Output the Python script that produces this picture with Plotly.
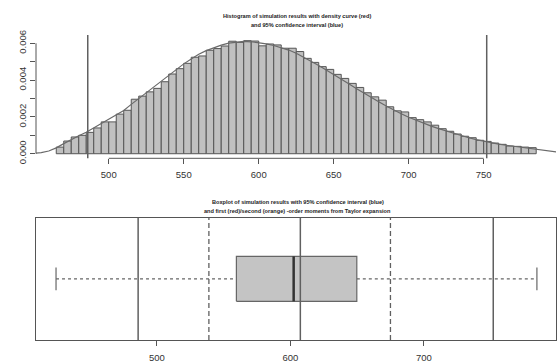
import plotly.graph_objects as go

# ---------------- data ----------------
bin_starts = [465, 470, 475, 480, 485, 490, 495, 500, 505, 510, 515, 520, 525, 530, 535, 540,
              545, 550, 555, 560, 565, 570, 575, 580, 585, 590, 595, 600, 605, 610, 615, 620,
              625, 630, 635, 640, 645, 650, 655, 660, 665, 670, 675, 680, 685, 690, 695, 700,
              705, 710, 715, 720, 725, 730, 735, 740, 745, 750, 755, 760, 765, 770, 775, 780]
bin_width = 5
hist_density = [0.00036, 0.00069, 0.00091, 0.00100, 0.00116, 0.00140, 0.00173, 0.00173,
                0.00215, 0.00236, 0.00296, 0.00313, 0.00336, 0.00355, 0.00391, 0.00433,
                0.00462, 0.00491, 0.00524, 0.00531, 0.00562, 0.00571, 0.00585, 0.00611,
                0.00605, 0.00614, 0.00612, 0.00586, 0.00596, 0.00591, 0.00573, 0.00573,
                0.00555, 0.00518, 0.00496, 0.00473, 0.00458, 0.00431, 0.00409, 0.00382,
                0.00360, 0.00331, 0.00309, 0.00291, 0.00255, 0.00233, 0.00227, 0.00196,
                0.00185, 0.00173, 0.00155, 0.00136, 0.00122, 0.00107, 0.00095, 0.00087,
                0.00073, 0.00067, 0.00058, 0.00051, 0.00042, 0.00040, 0.00036, 0.00033]

dens_x = [450, 455, 460, 465, 470, 475, 480, 485, 490, 495, 500, 505, 510, 515, 520, 525,
          530, 535, 540, 545, 550, 555, 560, 565, 570, 575, 580, 585, 590, 595, 600, 605,
          610, 615, 620, 625, 630, 635, 640, 645, 650, 655, 660, 665, 670, 675, 680, 685,
          690, 695, 700, 705, 710, 715, 720, 725, 730, 735, 740, 745, 750, 755, 760, 765,
          770, 775, 780, 785, 790, 795, 800]
dens_y = [0.00002, 0.00006, 0.00015, 0.00032, 0.00055, 0.00078, 0.00098, 0.00117, 0.00140,
          0.00163, 0.00185, 0.00208, 0.00235, 0.00268, 0.00300, 0.00330, 0.00360, 0.00392,
          0.00425, 0.00457, 0.00488, 0.00515, 0.00540, 0.00560, 0.00576, 0.00590, 0.00601,
          0.00607, 0.00610, 0.00608, 0.00603, 0.00597, 0.00588, 0.00577, 0.00563, 0.00546,
          0.00525, 0.00502, 0.00479, 0.00455, 0.00431, 0.00406, 0.00380, 0.00354, 0.00329,
          0.00305, 0.00282, 0.00259, 0.00237, 0.00217, 0.00198, 0.00181, 0.00165, 0.00150,
          0.00136, 0.00123, 0.00110, 0.00098, 0.00087, 0.00077, 0.00068, 0.00060, 0.00052,
          0.00046, 0.00040, 0.00035, 0.00030, 0.00025, 0.00019, 0.00013, 0.00008]

ci_bounds = [486, 752]             # 95% confidence interval
taylor_first = [607.5]             # first-order moment (solid)
taylor_second = [539, 675]         # second-order moments (dashed)

box_stats = {"lower": 424.5, "q1": 559.6, "median": 602.5, "q3": 649.8, "upper": 784.7}

top_xticks = [500, 550, 600, 650, 700, 750]
top_yticks = [0, 0.001, 0.002, 0.003, 0.004, 0.005, 0.006]
top_yticktext = ["0.000", "", "0.002", "", "0.004", "", "0.006"]
bot_xticks = [500, 600, 700]

title_top = ["Histogram of simulation results with density curve (red)",
             "and 95% confidence interval (blue)"]
title_bot = ["Boxplot of simulation results with 95% confidence interval (blue)",
             "and first (red)/second (orange) -order moments from Taylor expansion"]

# ---------------- styling ----------------
W, H = 560, 362


def fx(px):
    return px / W


def fy(py):
    return 1 - py / H


AX = "#555555"
VL = "#606060"
TXT = "#333333"
FONT = "Liberation Sans, Arial, sans-serif"
x_dom = [fx(36), fx(556)]
top_dom = [fy(158.3), fy(35)]
bot_dom = [fy(340), fy(217.7)]

fig = go.Figure()

centers = [b + bin_width / 2 for b in bin_starts]
fig.add_trace(go.Bar(x=centers, y=hist_density, width=bin_width,
                     marker=dict(color="#c0c0c0", line=dict(color="#555555", width=1)),
                     xaxis="x", yaxis="y", showlegend=False))
fig.add_trace(go.Scatter(x=dens_x, y=dens_y, mode="lines",
                         line=dict(color="#6a6a6a", width=1.2),
                         xaxis="x", yaxis="y", showlegend=False))

# boxplot (horizontal, centred at 0.5)
bh = 0.184
cap = 0.093
s = box_stats
fig.add_trace(go.Scatter(x=[s["lower"], s["q1"]], y=[0.5, 0.5], mode="lines",
                         line=dict(color="#666666", width=1.2, dash="3px,3px"),
                         xaxis="x2", yaxis="y2", showlegend=False))
fig.add_trace(go.Scatter(x=[s["q3"], s["upper"]], y=[0.5, 0.5], mode="lines",
                         line=dict(color="#666666", width=1.2, dash="3px,3px"),
                         xaxis="x2", yaxis="y2", showlegend=False))
for v in [s["lower"], s["upper"]]:
    fig.add_trace(go.Scatter(x=[v, v], y=[0.5 - cap, 0.5 + cap], mode="lines",
                             line=dict(color="#666666", width=1.2),
                             xaxis="x2", yaxis="y2", showlegend=False))
fig.add_trace(go.Scatter(x=[s["q1"], s["q3"], s["q3"], s["q1"], s["q1"]],
                         y=[0.5 - bh, 0.5 - bh, 0.5 + bh, 0.5 + bh, 0.5 - bh],
                         mode="lines", fill="toself", fillcolor="#c4c4c4",
                         line=dict(color="#666666", width=1.2),
                         xaxis="x2", yaxis="y2", showlegend=False))
fig.add_trace(go.Scatter(x=[s["median"], s["median"]], y=[0.5 - bh, 0.5 + bh], mode="lines",
                         line=dict(color="#333333", width=2.5),
                         xaxis="x2", yaxis="y2", showlegend=False))

shapes = []
# top axis lines (R style, spanning only the tick range)
shapes.append(dict(type="line", xref="x domain", yref="y", x0=0, x1=0,
                   y0=top_yticks[0], y1=top_yticks[-1], line=dict(color=AX, width=1)))
shapes.append(dict(type="line", xref="x", yref="y domain", x0=top_xticks[0], x1=top_xticks[-1],
                   y0=0, y1=0, line=dict(color=AX, width=1)))
for v in ci_bounds:
    shapes.append(dict(type="line", xref="x", yref="y domain", x0=v, x1=v, y0=0, y1=1,
                       line=dict(color=VL, width=1.5)))
    shapes.append(dict(type="line", xref="x2", yref="y2 domain", x0=v, x1=v, y0=0, y1=1,
                       line=dict(color=VL, width=1.5)))
for v in taylor_first:
    shapes.append(dict(type="line", xref="x2", yref="y2 domain", x0=v, x1=v, y0=0, y1=1,
                       line=dict(color=VL, width=1.5)))
for v in taylor_second:
    shapes.append(dict(type="line", xref="x2", yref="y2 domain", x0=v, x1=v, y0=0, y1=1,
                       line=dict(color=VL, width=1.3, dash="5px,3px")))

annotations = []
for text, y in zip(title_top, [15.7, 25]):
    annotations.append(dict(text="<b>" + text + "</b>", x=fx(296.5), y=fy(y),
                            xref="paper", yref="paper", showarrow=False,
                            xanchor="center", yanchor="middle",
                            font=dict(size=5.6, color="#222222", family=FONT)))
for text, y in zip(title_bot, [201.7, 211]):
    annotations.append(dict(text="<b>" + text + "</b>", x=fx(297.5), y=fy(y),
                            xref="paper", yref="paper", showarrow=False,
                            xanchor="center", yanchor="middle",
                            font=dict(size=5.6, color="#222222", family=FONT)))

tickfont = dict(size=9.5, color=TXT, family=FONT)
fig.update_layout(
    width=W, height=H, margin=dict(l=0, r=0, t=0, b=0, autoexpand=False),
    paper_bgcolor="white", plot_bgcolor="white", bargap=0,
    showlegend=False,
    xaxis=dict(domain=x_dom, range=[451.5, 798.2], anchor="y", tickvals=top_xticks,
               ticks="outside", ticklen=5, tickcolor=AX, showline=False, showgrid=False,
               zeroline=False, tickfont=tickfont, ticklabelstandoff=2, automargin=False),
    yaxis=dict(domain=top_dom, range=[-0.000248, 0.006448], anchor="x",
               tickvals=top_yticks, ticktext=top_yticktext, tickangle=-90,
               ticks="outside", ticklen=5, tickcolor=AX, showline=False, showgrid=False,
               zeroline=False, tickfont=tickfont, ticklabelstandoff=0, automargin=False),
    xaxis2=dict(domain=x_dom, range=[409.5, 799.0], anchor="y2", tickvals=bot_xticks,
                ticks="outside", ticklen=5, tickcolor=AX, showline=True, mirror=True,
                linecolor=AX, linewidth=1, showgrid=False, zeroline=False,
                tickfont=tickfont, ticklabelstandoff=4, automargin=False),
    yaxis2=dict(domain=bot_dom, range=[0, 1], anchor="x2", showticklabels=False, ticks="",
                showline=True, mirror=True, linecolor=AX, linewidth=1, showgrid=False,
                zeroline=False, automargin=False),
    shapes=shapes, annotations=annotations,
)

# remove the default page margin so the 560x362 figure fills the window exactly
fig.write_html("out.html",
               config={"displayModeBar": False, "staticPlot": True},
               post_script="document.body.style.margin='0';document.body.style.overflow='hidden';")
